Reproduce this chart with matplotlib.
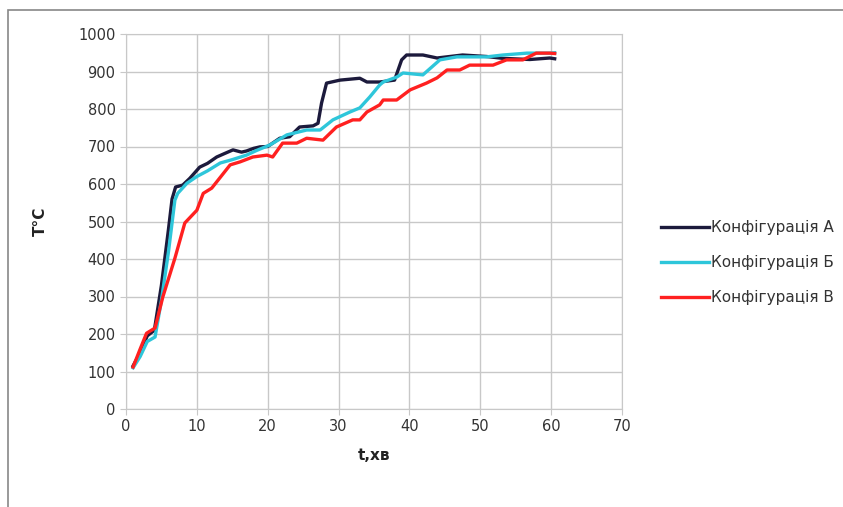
import matplotlib.pyplot as plt
from matplotlib.patches import Rectangle

plt.rcParams['font.family'] = ['Liberation Sans Narrow', 'DejaVu Sans']

# Конфігурація А
t_a = [1, 2, 3, 4, 5, 6, 6.5, 7, 8, 9, 10.4, 11.5, 12.8, 14, 15.1, 16.3, 17, 18, 18.9,
       20, 21.7, 23.1, 24.5, 26.4, 27.1, 27.6, 28.3, 30.2, 33, 34, 35.8, 37.9, 38.9,
       39.6, 41.9, 43.9, 47.5, 50.9, 53.2, 57, 59.8, 60.5]
T_a = [115, 150, 195, 210, 330, 480, 560, 592, 597, 615, 645, 655, 672, 682, 691, 685, 688, 695, 699,
       700, 722, 726, 752, 755, 762, 816, 869, 877, 882, 872, 872, 877, 931,
       944, 944, 936, 944, 940, 935, 932, 936, 934]

# Конфігурація Б
t_b = [1, 2, 3, 4.1, 5, 6, 6.9, 7.3, 8.6, 10, 11.5, 13.3, 15, 17, 18.5, 20.3, 22.7, 25.5,
       27.4, 29.2, 31.6, 33, 34.4, 35.8, 36.3, 38.2, 39.1, 41.9, 44.3, 46.7, 50.9,
       53.2, 56.6, 59.8, 60.5]
T_b = [110, 140, 180, 192, 290, 420, 557, 575, 602, 620, 635, 656, 665, 677, 690, 704, 731, 744,
       744, 771, 792, 803, 832, 864, 872, 885, 896, 891, 931, 939, 939,
       944, 949, 949, 950]

# Конфігурація В
t_c = [1, 2, 2.9, 4.1, 5.2, 6.9, 8.3, 10, 10.9, 12.1, 13.4, 14.7, 16.1, 17.9, 19.9, 20.7,
       22.1, 24.1, 25.5, 27.8, 29.7, 32, 33, 34, 35.8, 36.3, 38.2, 40.1, 42.4, 43.9,
       45.3, 47.1, 48.5, 51.8, 53.7, 56, 57.9, 59.8, 60.5]
T_c = [112, 160, 202, 216, 299, 402, 496, 530, 575, 589, 620, 651, 659, 672, 677, 672,
       709, 709, 722, 717, 752, 771, 771, 792, 811, 824, 824, 851, 869, 883,
       904, 904, 917, 917, 931, 931, 949, 949, 948]

labels = ['Конфігурація А', 'Конфігурація Б', 'Конфігурація В']
colors = ['#1c1a3c', '#2ec6da', '#ff2020']

fig = plt.figure(figsize=(8.43, 5.07), dpi=100)
ax = fig.add_axes([126 / 843, 1 - 409 / 507, 496 / 843, 375 / 507])

for ts, Ts, lab, c in zip([t_a, t_b, t_c], [T_a, T_b, T_c], labels, colors):
    ax.plot(ts, Ts, color=c, lw=2.4, label=lab, solid_joinstyle='round')

ax.set_xlim(0, 70)
ax.set_ylim(0, 1000)
ax.set_xticks(range(0, 71, 10))
ax.set_yticks(range(0, 1001, 100))
ax.grid(True, color='#c8c8c8', lw=1.0)
ax.set_axisbelow(True)
for s in ax.spines.values():
    s.set_color('#c8c8c8')
ax.tick_params(colors='#c8c8c8', labelcolor='#333333', labelsize=10.5, length=4)

ax.set_xlabel('t,хв', fontsize=11, fontweight='bold', color='#222222', labelpad=10)
ax.set_ylabel('T°C', fontsize=11, fontweight='bold', color='#222222', labelpad=22)

leg = ax.legend(loc='center left', bbox_to_anchor=(1.05, 0.39), frameon=False,
                fontsize=11, handlelength=3.2, handletextpad=0.1, labelspacing=1.3)
for txt in leg.get_texts():
    txt.set_color('#333333')

fig.patches.append(Rectangle((8 / 843, -0.1), 1.2, 1.08 - 10 / 507 + 0.02, transform=fig.transFigure,
                             fill=False, edgecolor='#888888', lw=1.2))

fig.savefig('out.png', dpi=100)
